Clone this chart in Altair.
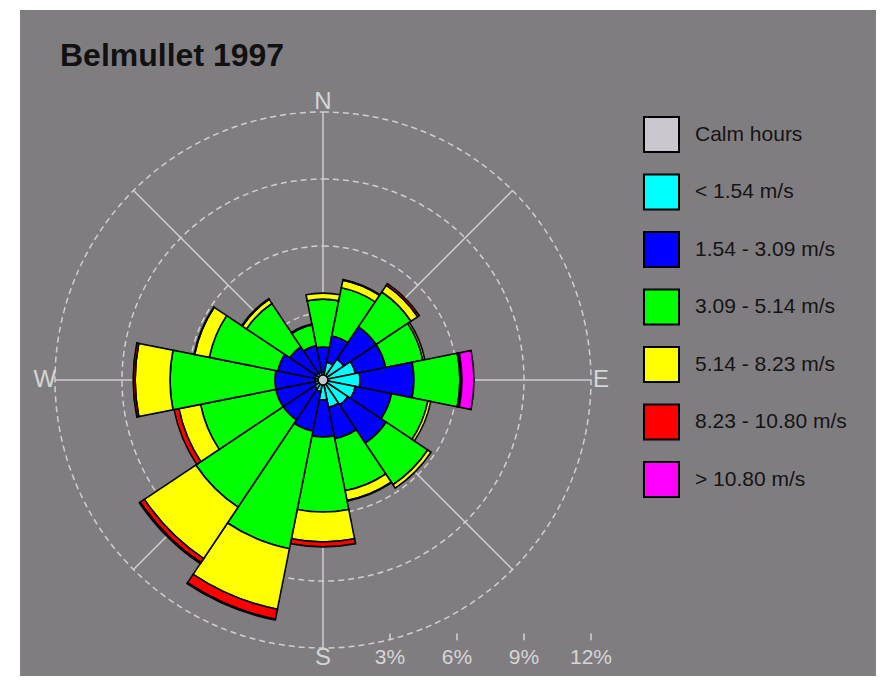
import math
import altair as alt
import pandas as pd

# ---------------- data ----------------
title_text = "Belmullet 1997"
directions = ["N", "NNE", "NE", "ENE", "E", "ESE", "SE", "SSE",
              "S", "SSW", "SW", "WSW", "W", "WNW", "NW", "NNW"]
classes = ["Calm hours", "< 1.54 m/s", "1.54 - 3.09 m/s", "3.09 - 5.14 m/s",
           "5.14 - 8.23 m/s", "8.23 - 10.80 m/s", "> 10.80 m/s"]
colors = ["#cac6cd", "#00ffff", "#0000ff", "#00ff00", "#ffff00", "#ff0000", "#ff00ff"]

calm_pct = 0.22
spd_lt_154 = [0.36, 0.81, 1.12, 1.48, 1.66, 1.48, 1.34, 1.25, 0.89, 0.54, 0.45, 0.36, 0.36, 0.36, 0.36, 0.36]
spd_154_309 = [1.12, 1.20, 1.74, 1.38, 2.41, 1.65, 2.06, 1.43, 1.66, 1.79, 1.70, 1.79, 1.79, 1.70, 1.43, 1.21]
spd_309_514 = [2.14, 2.20, 1.88, 1.70, 2.06, 1.66, 2.24, 2.38, 3.36, 5.37, 4.70, 3.44, 4.70, 3.13, 2.33, 0.94]
spd_514_823 = [0.27, 0.35, 0.36, 0.09, 0.04, 0.13, 0.18, 0.44, 1.34, 2.77, 2.77, 0.99, 1.56, 0.67, 0.22, 0.04]
spd_823_1080 = [0.00, 0.03, 0.09, 0.00, 0.05, 0.00, 0.00, 0.03, 0.22, 0.45, 0.22, 0.22, 0.09, 0.02, 0.04, 0.00]
spd_gt_1080 = [0.00, 0.00, 0.00, 0.00, 0.54, 0.00, 0.00, 0.00, 0.00, 0.04, 0.05, 0.00, 0.00, 0.00, 0.00, 0.00]

ring_values = [3, 6, 9, 12]
ring_labels = ["3%", "6%", "9%", "12%"]
compass_labels = ["N", "E", "S", "W"]
compass_angles = [0, 90, 180, 270]
spoke_angles = [0, 45, 90, 135]

# ---------------- layout constants ----------------
W, H = 868, 668
PAD_L, PAD_T = 12, 2
PW, PH = W - PAD_L, H - PAD_T          # plot area
CX, CY = 303, 370                      # rose centre in plot coords
R_MAX = 12                             # outer ring (percent)
R_PX = 268                             # outer ring radius in px
S = R_PX / R_MAX
BG = "#807d81"
GRID = "#cfcfcf"

# ---------------- tables ----------------
series = [spd_lt_154, spd_154_309, spd_309_514, spd_514_823, spd_823_1080, spd_gt_1080]
rows = []
for i, d in enumerate(directions):
    t0 = i * 22.5 - 11.25
    if t0 < 0:
        t0 += 360
    cum = 0.0
    for k, arr in enumerate(series):
        v = arr[i]
        if v > 0:
            rows.append({"dir": d, "cls": classes[k + 1], "pct": v,
                         "r0": cum, "r1": cum + v, "t0": t0, "t1": t0 + 22.5})
        cum += v
bars_df = pd.DataFrame(rows)
calm_df = pd.DataFrame({"cls": [classes[0]], "r": [calm_pct], "t0": [0], "t1": [360]})
rings_df = pd.DataFrame({"r": ring_values, "t0": [0] * 4, "t1": [360] * 4})

spokes_df = pd.DataFrame({
    "x": [R_MAX * math.sin(math.radians(a)) for a in spoke_angles],
    "y": [R_MAX * math.cos(math.radians(a)) for a in spoke_angles],
    "x2": [-R_MAX * math.sin(math.radians(a)) for a in spoke_angles],
    "y2": [-R_MAX * math.cos(math.radians(a)) for a in spoke_angles],
})
LAB_R = 12.45
compass_df = pd.DataFrame({
    "lab": compass_labels,
    "x": [LAB_R * math.sin(math.radians(a)) for a in compass_angles],
    "y": [LAB_R * math.cos(math.radians(a)) for a in compass_angles],
})
pct_df = pd.DataFrame({"lab": ring_labels, "x": ring_values,
                       "y": [-LAB_R] * 4, "ty": [-11.35] * 4, "ty2": [-11.65] * 4})
title_df = pd.DataFrame({"t": [title_text]})

# ---------------- scales ----------------
theta_scale = alt.Scale(domain=[0, 360], range=[0, 2 * math.pi])
r_scale = alt.Scale(type="linear", domain=[0, R_MAX], range=[0, R_PX], zero=True, nice=False)
x_scale = alt.Scale(domain=[-CX / S, (PW - CX) / S], nice=False, zero=False)
y_scale = alt.Scale(domain=[(CY - PH) / S, CY / S], nice=False, zero=False)
color_scale = alt.Scale(domain=classes, range=colors)

legend = alt.Legend(
    orient="none", legendX=623, legendY=106, title=None,
    symbolType="square", symbolSize=1225, symbolStrokeColor="black",
    symbolStrokeWidth=2, symbolOpacity=1, labelFontSize=21, labelColor="#141414",
    labelFont="Liberation Sans", labelOffset=15, rowPadding=14.5, padding=0,
    labelLimit=300,
)

# ---------------- layers ----------------
spokes = alt.Chart(spokes_df).mark_rule(color=GRID, strokeWidth=1.5).encode(
    x=alt.X("x:Q", scale=x_scale, axis=None),
    y=alt.Y("y:Q", scale=y_scale, axis=None),
    x2="x2:Q", y2="y2:Q",
)

rings = alt.Chart(rings_df).mark_arc(
    fillOpacity=0, stroke=GRID, strokeWidth=1.5, strokeDash=[6, 4]
).encode(
    theta=alt.Theta("t0:Q", scale=theta_scale, stack=False),
    theta2="t1:Q",
    radius=alt.Radius("r:Q", scale=r_scale, stack=False),
    x=alt.value(CX), y=alt.value(CY),
)

bars = alt.Chart(bars_df).mark_arc(stroke="black", strokeWidth=1.6).encode(
    theta=alt.Theta("t0:Q", scale=theta_scale, stack=False),
    theta2="t1:Q",
    radius=alt.Radius("r1:Q", scale=r_scale, stack=False),
    radius2="r0:Q",
    color=alt.Color("cls:N", scale=color_scale, legend=legend),
    x=alt.value(CX), y=alt.value(CY),
)

calm = alt.Chart(calm_df).mark_arc(stroke="black", strokeWidth=1.5).encode(
    theta=alt.Theta("t0:Q", scale=theta_scale, stack=False),
    theta2="t1:Q",
    radius=alt.Radius("r:Q", scale=r_scale, stack=False),
    color=alt.Color("cls:N", scale=color_scale, legend=legend),
    x=alt.value(CX), y=alt.value(CY),
)

compass = alt.Chart(compass_df).mark_text(
    fontSize=24, color="#d6d6d6", font="Liberation Sans", baseline="middle", align="center"
).encode(
    x=alt.X("x:Q", scale=x_scale, axis=None),
    y=alt.Y("y:Q", scale=y_scale, axis=None),
    text="lab:N",
)

pct_labels = alt.Chart(pct_df).mark_text(
    fontSize=21, color="#d6d6d6", font="Liberation Sans", baseline="middle", align="center"
).encode(
    x=alt.X("x:Q", scale=x_scale, axis=None),
    y=alt.Y("y:Q", scale=y_scale, axis=None),
    text="lab:N",
)

pct_ticks = alt.Chart(pct_df).mark_rule(color="#d6d6d6", strokeWidth=1.5).encode(
    x=alt.X("x:Q", scale=x_scale, axis=None),
    y=alt.Y("ty:Q", scale=y_scale, axis=None),
    y2="ty2:Q",
)

title = alt.Chart(title_df).mark_text(
    fontSize=32, fontWeight="bold", font="Liberation Sans", color="#111111",
    align="left", baseline="alphabetic"
).encode(x=alt.value(40), y=alt.value(56), text="t:N")

chart = alt.layer(spokes, rings, bars, calm, compass, pct_labels, pct_ticks, title).properties(
    width=W, height=H,
    autosize=alt.AutoSizeParams(type="fit", contains="padding"),
    padding={"left": PAD_L, "top": PAD_T, "right": 0, "bottom": 0},
    background="white",
).configure_view(fill=BG, strokeWidth=0)

chart.save("out.html", embed_options={"renderer": "svg", "actions": False})
